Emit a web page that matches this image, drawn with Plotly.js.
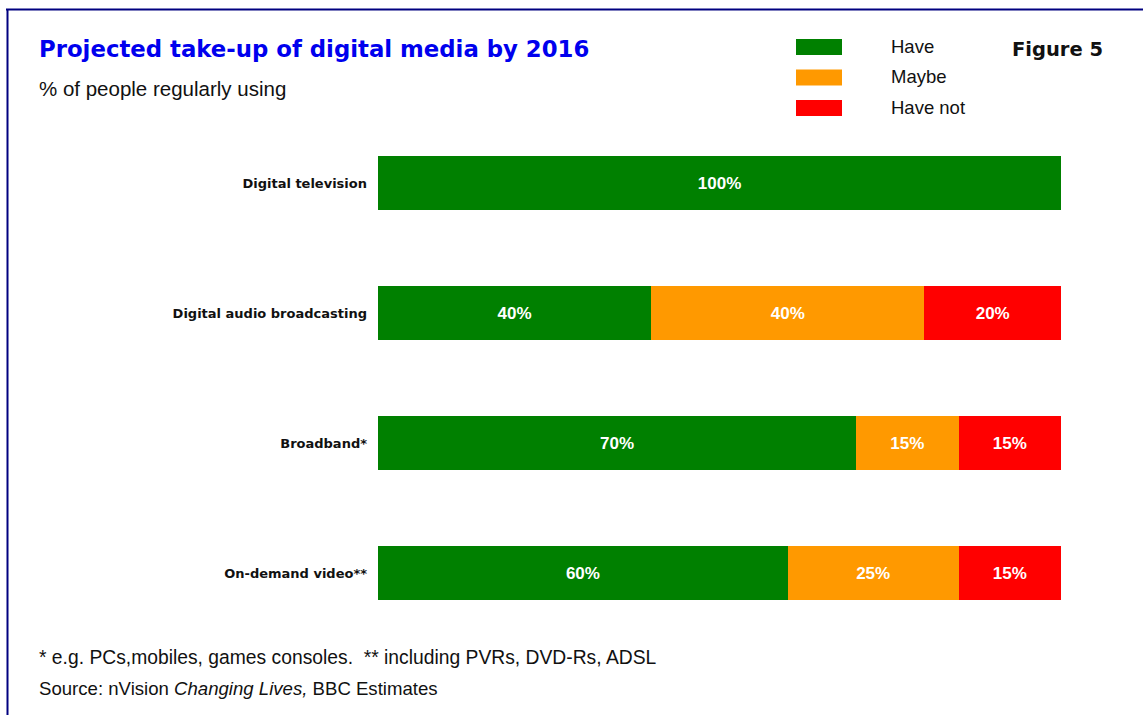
<!DOCTYPE html>
<html>
<head>
<meta charset="utf-8">
<script src="https://cdn.plot.ly/plotly-3.0.1.min.js"></script>
<style>
html,body{margin:0;padding:0;background:#fff;}
#chart{width:1143px;height:715px;}
</style>
</head>
<body>
<div id="chart"></div>
<script>
// ---- data ----
const categories = ["Digital television", "Digital audio broadcasting", "Broadband*", "On-demand video**"];
const seriesNames = ["Have", "Maybe", "Have not"];
const have    = [100, 40, 70, 60];
const maybe   = [0, 40, 15, 25];
const haveNot = [0, 20, 15, 15];
const seriesColors = ["#008000", "#FF9900", "#FF0000"];
const titleText = "Projected take-up of digital media by 2016";
const subtitleText = "% of people regularly using";
const figureLabel = "Figure 5";
const footnote1 = "* e.g. PCs,mobiles, games consoles.  ** including PVRs, DVD-Rs, ADSL";
const footnote2 = "Source: nVision <i>Changing Lives,</i> BBC Estimates";

// ---- layout geometry ----
const W = 1143, H = 715;
const M = {l: 378, r: 82, t: 118, b: 77};
const PW = W - M.l - M.r, PH = H - M.t - M.b;
const px = x => (x - M.l) / PW;          // pixel -> paper x
const py = y => (H - M.b - y) / PH;      // pixel -> paper y
const SANS = "Liberation Sans, Arial, sans-serif";
const WIDE = "DejaVu Sans, Verdana, sans-serif";

const allValues = [have, maybe, haveNot];
const traces = allValues.map((vals, i) => ({
  type: "bar",
  orientation: "h",
  name: seriesNames[i],
  y: categories,
  x: vals.map(v => v === 0 ? null : v),
  marker: {color: seriesColors[i], line: {width: 0}},
  text: vals.map(v => v === 0 ? "" : v + "%"),
  texttemplate: "%{text}",
  textposition: "inside",
  insidetextanchor: "middle",
  textangle: 0,
  constraintext: "none",
  textfont: {family: SANS, size: 17, color: "#ffffff", weight: "bold"},
  hoverinfo: "skip",
  showlegend: false
}));

const shapes = [
  {type: "line", xref: "paper", yref: "paper", x0: px(6), x1: px(1150), y0: py(9.5), y1: py(9.5), line: {color: "#000080", width: 2}},
  {type: "line", xref: "paper", yref: "paper", x0: px(7.5), x1: px(7.5), y0: py(9), y1: py(720), line: {color: "#000080", width: 2}}
];
const annotations = [
  {text: titleText, x: px(37), y: py(49), xanchor: "left", yanchor: "middle", showarrow: false, xref: "paper", yref: "paper",
   font: {family: WIDE, size: 22.8, color: "#0000EE", weight: "bold"}},
  {text: subtitleText, x: px(37), y: py(89), xanchor: "left", yanchor: "middle", showarrow: false, xref: "paper", yref: "paper",
   font: {family: SANS, size: 20.5, color: "#111111"}},
  {text: figureLabel, x: px(1105), y: py(49), xanchor: "right", yanchor: "middle", showarrow: false, xref: "paper", yref: "paper",
   font: {family: WIDE, size: 19.5, color: "#111111", weight: "bold"}},
  {text: footnote1, x: px(37), y: py(657), xanchor: "left", yanchor: "middle", showarrow: false, xref: "paper", yref: "paper",
   font: {family: SANS, size: 19.3, color: "#111111"}},
  {text: footnote2, x: px(37), y: py(688), xanchor: "left", yanchor: "middle", showarrow: false, xref: "paper", yref: "paper",
   font: {family: SANS, size: 18.6, color: "#111111"}}
];
// legend (drawn manually to match the wide swatches)
seriesNames.forEach((name, i) => {
  const yc = 47 + i * 30.5;
  shapes.push({type: "rect", xref: "paper", yref: "paper", x0: px(796), x1: px(842), y0: py(yc - 8), y1: py(yc + 8),
    fillcolor: seriesColors[i], line: {width: 0}});
  annotations.push({text: name, x: px(889), y: py(yc - 1), xanchor: "left", yanchor: "middle", showarrow: false,
    xref: "paper", yref: "paper", font: {family: SANS, size: 18.5, color: "#111111"}});
});

const layout = {
  width: W, height: H,
  margin: M,
  paper_bgcolor: "#ffffff", plot_bgcolor: "#ffffff",
  barmode: "stack",
  bargap: 0.59,
  showlegend: false,
  xaxis: {range: [0, 100], showticklabels: false, showgrid: false, zeroline: false, showline: false, ticks: "", fixedrange: true},
  yaxis: {autorange: "reversed", showgrid: false, zeroline: false, showline: false, ticks: "", ticklabelstandoff: 10,
    tickfont: {family: WIDE, size: 13, color: "#111111", weight: "bold"}, fixedrange: true},
  shapes: shapes,
  annotations: annotations
};

Plotly.newPlot("chart", traces, layout, {displayModeBar: false, staticPlot: true});
</script>
</body>
</html>
